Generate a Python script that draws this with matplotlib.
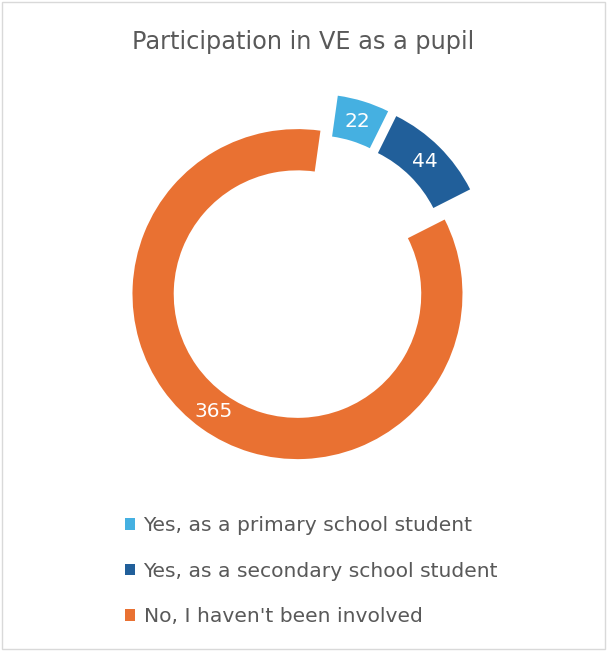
import matplotlib.pyplot as plt
from matplotlib.patches import Rectangle

title = "Participation in VE as a pupil"
categories = ["Yes, as a primary school student",
              "Yes, as a secondary school student",
              "No, I haven't been involved"]
counts = [22, 44, 365]
colors = ["#45B0E1", "#215F9A", "#E97132"]

total = sum(counts)
text_gray = "#595959"

fig = plt.figure(figsize=(6.07, 6.51), dpi=100)
ax = fig.add_axes([0, 0, 1, 1])

wedges, texts, autotexts = ax.pie(
    counts,
    colors=colors,
    startangle=82,
    counterclock=False,
    explode=[0.12, 0.12, 0.12],
    radius=1.0,
    wedgeprops=dict(width=0.25, edgecolor="none"),
    autopct=lambda p: f"{round(p * total / 100)}",
    pctdistance=0.875,
    textprops=dict(color="white", fontsize=14.5),
)

# 165 px per data unit, pie centre at (309, 278) px from the top-left
px = 165.0
ax.set_xlim(-309 / px, (607 - 309) / px)
ax.set_ylim(-(651 - 278) / px, 278 / px)
ax.set_aspect("equal", adjustable="datalim")
ax.set_position([0, 0, 1, 1])
ax.axis("off")

fig.text(0.5, 1 - 42 / 651, title, ha="center", va="center",
         fontsize=17.3, color=text_gray)

leg = fig.legend(wedges, categories, loc="upper left",
                 bbox_to_anchor=(107 / 607, 1 - 498 / 651),
                 frameon=False, fontsize=14.6, labelcolor=text_gray,
                 handlelength=0.5, handleheight=0.5, handletextpad=0.4,
                 labelspacing=1.3)

# thin grey frame round the chart area
fig.patches.append(Rectangle((0.003, 0.003), 0.994, 0.994,
                             transform=fig.transFigure, fill=False,
                             edgecolor="#D9D9D9", linewidth=1))

fig.savefig("out.png", dpi=100)
